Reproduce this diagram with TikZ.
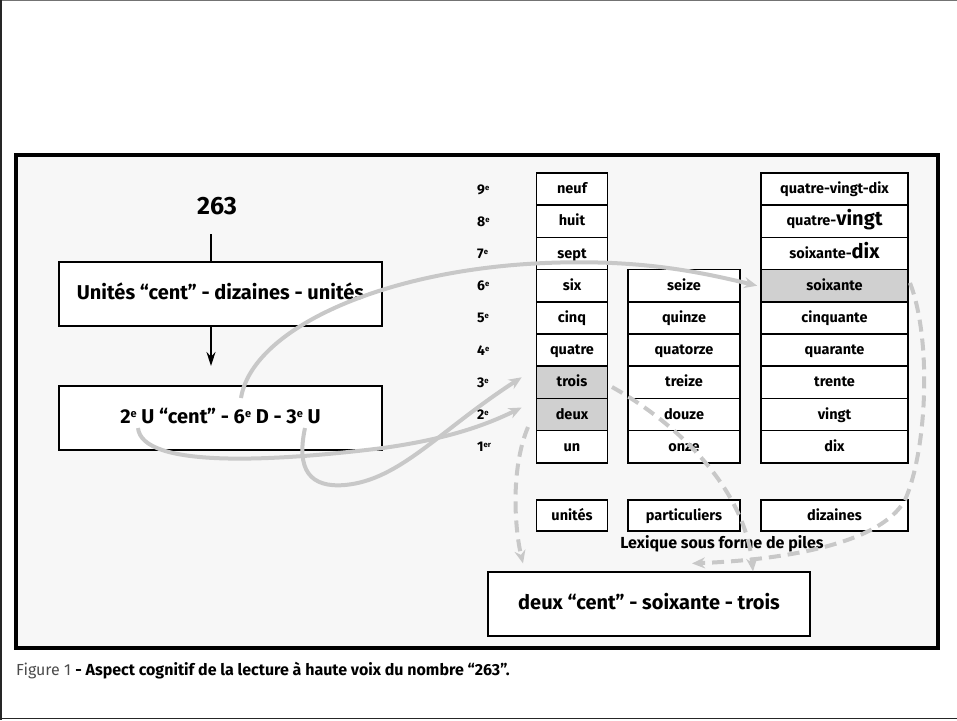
\documentclass[tikz,border=0pt]{standalone}
\usepackage{fontspec}
\setmainfont{Fira Sans}
\usetikzlibrary{arrows.meta}
\definecolor{bgc}{HTML}{F7F7F7}
\definecolor{curv}{HTML}{C8C8C8}
\definecolor{hil}{HTML}{D0D0D0}
\newcommand\supe[1]{\raisebox{.55ex}{\scalebox{0.55}{#1}}}
\begin{document}
\begin{tikzpicture}[x=1pt,y=-1pt,
  cell/.style={draw, line width=1.6pt, fill=white, inner sep=0pt, minimum height=32.2pt, text height=12pt, text depth=3pt, font=\fontsize{14.5}{16}\selectfont\bfseries},
  ucell/.style={cell, minimum width=71pt},
  pcell/.style={cell, minimum width=112pt},
  dcell/.style={cell, minimum width=147pt},
  hcell/.style={fill=hil},
  bigbox/.style={draw, line width=1.2pt, fill=white, minimum width=323pt, minimum height=64pt, inner sep=0pt, text height=14.5pt, text depth=4pt, font=\fontsize{20}{24}\selectfont\bfseries},
  lab/.style={anchor=west, inner sep=0pt, text height=10pt, text depth=0pt, font=\fontsize{14}{16}\selectfont\bfseries},
  curve/.style={draw=curv, line width=4pt},
  dcurve/.style={curve, dash pattern=on 12pt off 7pt},
  gtip/.style={-{Stealth[length=13pt,width=11pt,fill=curv,color=curv]}}
]
\useasboundingbox (0,0) rectangle (957,720);
% outer border
\draw[black!55, line width=1pt] (0,0.5) -- (957,0.5);
\draw[black!85, line width=1.5pt] (0.75,0) -- (0.75,720);
\draw[black!85, line width=1.5pt] (0,718.5) -- (957,718.5);
% frame
\draw[line width=3.5pt, fill=bgc] (16,155) rectangle (938,648);

% left flow
\node[font=\fontsize{25}{28}\selectfont\bfseries] (n263) at (217,206) {263};
\node[bigbox] (box1) at (220.5,294) {Unités “cent” - dizaines - unités};
\node[bigbox] (box2) at (220.5,418) {2\supe{e} U “cent” - 6\supe{e} D - 3\supe{e} U};
\coordinate (a0) at (211,234);
\coordinate (a2) at (211,366);
\draw[line width=1.4pt] (a0) -- (a0 |- box1.north);
\draw[line width=1.4pt, -{Stealth[length=14pt,width=9pt]}] (a0 |- box1.south) -- (a2);

% rank labels
\node[lab] (l9) at (477,189.1) {9\supe{e}};
\node[lab] (l8) at (477,221.3) {8\supe{e}};
\node[lab] (l7) at (477,253.5) {7\supe{e}};
\node[lab] (l6) at (477,285.7) {6\supe{e}};
\node[lab] (l5) at (477,317.9) {5\supe{e}};
\node[lab] (l4) at (477,350.1) {4\supe{e}};
\node[lab] (l3) at (477,382.3) {3\supe{e}};
\node[lab] (l2) at (477,414.5) {2\supe{e}};
\node[lab] (l1) at (477,446.7) {1\supe{er}};

% units stack
\node[ucell] (u9) at (572,189.1) {neuf};
\node[ucell] (u8) at (572,221.3) {huit};
\node[ucell] (u7) at (572,253.5) {sept};
\node[ucell] (u6) at (572,285.7) {six};
\node[ucell] (u5) at (572,317.9) {cinq};
\node[ucell] (u4) at (572,350.1) {quatre};
\node[ucell,hcell] (u3) at (572,382.3) {trois};
\node[ucell,hcell] (u2) at (572,414.5) {deux};
\node[ucell] (u1) at (572,446.7) {un};

% particular stack
\node[pcell] (p6) at (684,285.7) {seize};
\node[pcell] (p5) at (684,317.9) {quinze};
\node[pcell] (p4) at (684,350.1) {quatorze};
\node[pcell] (p3) at (684,382.3) {treize};
\node[pcell] (p2) at (684,414.5) {douze};
\node[pcell] (p1) at (684,446.7) {onze};

% tens stack
\node[dcell] (d9) at (834.5,189.1) {quatre-vingt-dix};
\node[dcell] (d8) at (834.5,221.3) {quatre-{\fontsize{20}{20}\selectfont vingt}};
\node[dcell] (d7) at (834.5,253.5) {soixante-{\fontsize{20}{20}\selectfont dix}};
\node[dcell,hcell] (d6) at (834.5,285.7) {soixante};
\node[dcell] (d5) at (834.5,317.9) {cinquante};
\node[dcell] (d4) at (834.5,350.1) {quarante};
\node[dcell] (d3) at (834.5,382.3) {trente};
\node[dcell] (d2) at (834.5,414.5) {vingt};
\node[dcell] (d1) at (834.5,446.7) {dix};

% category boxes
\node[ucell, minimum height=31pt] (cu) at (572,515.5) {unités};
\node[pcell, minimum height=31pt] (cp) at (684,515.5) {particuliers};
\node[dcell, minimum height=31pt] (cd) at (834.5,515.5) {dizaines};
\node[font=\fontsize{16}{18}\selectfont\bfseries] (lex) at (722,544) {Lexique sous forme de piles};

% result box
\node[bigbox, minimum width=322pt] (res) at (649,604) {deux “cent” - soixante - trois};

% caption
\node[anchor=west, inner sep=0pt, font=\fontsize{16}{18}\selectfont] (cap) at (16,671)
  {{\color{black!70}Figure 1} \textbf{- Aspect cognitif de la lecture à haute voix du nombre “263”.}};

% gray connectors
\coordinate (s1) at (241,398);
\coordinate (s2) at (138,428);
\coordinate (s3) at (305,428);
\coordinate (m2) at (383,448);
\coordinate (m3) at (345,485);
\coordinate (m1) at (545,263);
\coordinate (t2) at ([xshift=-14pt,yshift=7pt]u2.west);
\coordinate (t3) at ([xshift=-14pt,yshift=5pt]u3.west);
\draw[curve, gtip] (s1) .. controls (252,330) and (380,270) .. (m1) .. controls (640,259) and (700,272) .. ([xshift=-3pt]d6.west);
\draw[curve, gtip] (s2) .. controls (142,468) and (270,462) .. (m2) .. controls (440,440) and (480,428) .. (t2);
\draw[curve, gtip] (s3) .. controls (296,470) and (310,488) .. (m3) .. controls (400,480) and (440,430) .. (t3);

\coordinate (e4) at (612,387);
\coordinate (e5) at (528,427);
\coordinate (e6) at (910,283);
\coordinate (m6) at (905,500);
\draw[dcurve, gtip] (e4) .. controls (680,425) and (745,490) .. (res.north -| 753,0);
\draw[dcurve, gtip] (e5) .. controls (510,470) and (515,530) .. ([yshift=8pt]res.north -| 523,0);
\draw[dcurve, gtip] (e6) .. controls (932,340) and (927,450) .. (m6) .. controls (880,545) and (780,560) .. ([yshift=8pt]res.north -| 692,0);
\end{tikzpicture}
\end{document}
